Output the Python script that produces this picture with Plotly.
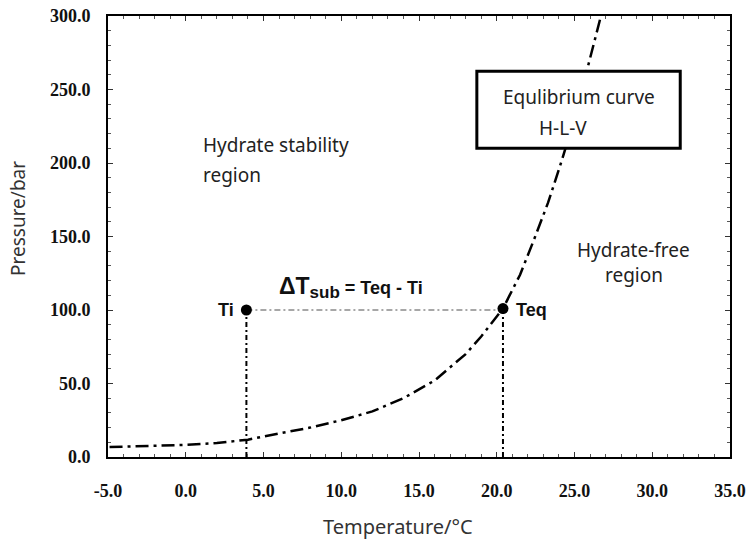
import plotly.graph_objects as go

# Equilibrium curve H-L-V (temperature °C, pressure bar)
temp_curve = [-4.9, -2, 0, 2, 4, 6, 8, 10, 12, 14, 16, 18, 19, 20.4, 21.5, 22.4, 23.3, 24.1, 25.0, 25.8, 26.7]
pres_curve = [6.8, 7.5, 8.2, 9.5, 11.8, 16, 20, 25, 31, 40, 52, 70, 82, 101, 124, 148, 173, 199, 230, 263, 300]

# Subcooling points
Ti_T, Teq_T = 3.9, 20.4
Ti_P, Teq_P = 100, 101

x_ticks = [-5, 0, 5, 10, 15, 20, 25, 30, 35]
x_ticktext = ["-5.0", "0.0", "5.0", "10.0", "15.0", "20.0", "25.0", "30.0", "35.0"]
y_ticks = [0, 50, 100, 150, 200, 250, 300]
y_ticktext = ["0.0", "50.0", "100.0", "150.0", "200.0", "250.0", "300.0"]

fig = go.Figure()

fig.add_trace(go.Scatter(x=temp_curve, y=pres_curve, mode="lines",
                         line=dict(color="black", width=2.5, dash="13px,5px,3px,5px"),
                         hoverinfo="skip"))
fig.add_trace(go.Scatter(x=[Ti_T, Ti_T], y=[0, Ti_P], mode="lines",
                         line=dict(color="black", width=2, dash="5px,3px,2px,3px")))
fig.add_trace(go.Scatter(x=[Teq_T, Teq_T], y=[0, Teq_P], mode="lines",
                         line=dict(color="black", width=2, dash="5px,3px,2px,3px")))
fig.add_trace(go.Scatter(x=[Ti_T, Teq_T], y=[Ti_P, Ti_P], mode="lines",
                         line=dict(color="#8a8a8a", width=1.3, dash="6px,3px,2px,3px")))
fig.add_trace(go.Scatter(x=[Ti_T, Teq_T], y=[Ti_P, Teq_P], mode="markers",
                         marker=dict(color="black", size=11)))

tickfont = dict(family="Liberation Serif", size=18, color="#111", weight="bold")
axis_common = dict(showline=True, linecolor="black", linewidth=2, mirror="allticks",
                   ticks="inside", ticklen=5, tickwidth=1, tickcolor="#333",
                   showgrid=False, zeroline=False, tickfont=tickfont, automargin=False,
                   tickmode="array", ticklabeloverflow="allow")

fig.update_xaxes(range=[-5, 35], tickvals=x_ticks, ticktext=x_ticktext, ticklabelstandoff=16,
                 minor=dict(tickmode="linear", ticks="inside", ticklen=3, tickwidth=1,
                            tickcolor="#555", dtick=1, tick0=-5),
                 **axis_common)
fig.update_yaxes(range=[0, 300], tickvals=y_ticks, ticktext=y_ticktext, ticklabelstandoff=12,
                 minor=dict(tickmode="linear", ticks="inside", ticklen=3, tickwidth=1,
                            tickcolor="#555", dtick=10, tick0=0),
                 **axis_common)

sans = "Noto Sans"
ann = [
    dict(x=0.466, y=-0.1565, xref="paper", yref="paper", text="Temperature/°C",
         font=dict(family=sans, size=20, color="#333")),
    dict(x=-0.1447, y=0.542, xref="paper", yref="paper", text="Pressure/bar", textangle=-90,
         font=dict(family=sans, size=19, color="#333")),
    dict(x=1.0, y=212, text="Hydrate stability", xanchor="left",
         font=dict(family=sans, size=19, color="#222")),
    dict(x=1.0, y=192, text="region", xanchor="left",
         font=dict(family=sans, size=19, color="#222")),
    dict(x=28.8, y=141, text="Hydrate-free",
         font=dict(family=sans, size=19, color="#222")),
    dict(x=28.8, y=124, text="region",
         font=dict(family=sans, size=19, color="#222")),
    dict(x=0.757, y=0.816, xref="paper", yref="paper", text="Equlibrium curve",
         font=dict(family=sans, size=19, color="#222")),
    dict(x=0.7315, y=0.746, xref="paper", yref="paper", text="H-L-V",
         font=dict(family=sans, size=19, color="#222")),
    dict(x=Ti_T, y=Ti_P, text="<b>Ti</b>", xanchor="right", xshift=-10,
         font=dict(family="Liberation Sans", size=18, color="#111")),
    dict(x=Teq_T, y=Teq_P, text="<b>Teq</b>", xanchor="left", xshift=11, yshift=-1,
         font=dict(family="Liberation Sans", size=18, color="#111")),
    dict(x=10.6, y=115,
         text="<b><span style='font-size:23px'>ΔT</span><sub><span style='font-size:17px'>sub</span></sub> = Teq - Ti</b>",
         font=dict(family="Liberation Sans", size=18, color="#111")),
]
for a in ann:
    a.setdefault("showarrow", False)
    a.setdefault("xanchor", "center")
    a.setdefault("yanchor", "middle")
fig.update_layout(annotations=ann)

fig.add_shape(type="rect", xref="paper", yref="paper", x0=0.593, x1=0.92, y0=0.70, y1=0.875,
              line=dict(color="black", width=3), fillcolor="white", layer="above")

fig.update_layout(width=749, height=541, margin=dict(l=108, r=19, t=16, b=84),
                  plot_bgcolor="white", paper_bgcolor="white", showlegend=False)

fig.write_html("out.html", config={"displayModeBar": False},
               post_script="document.body.style.margin='0';document.body.style.overflow='hidden';")
